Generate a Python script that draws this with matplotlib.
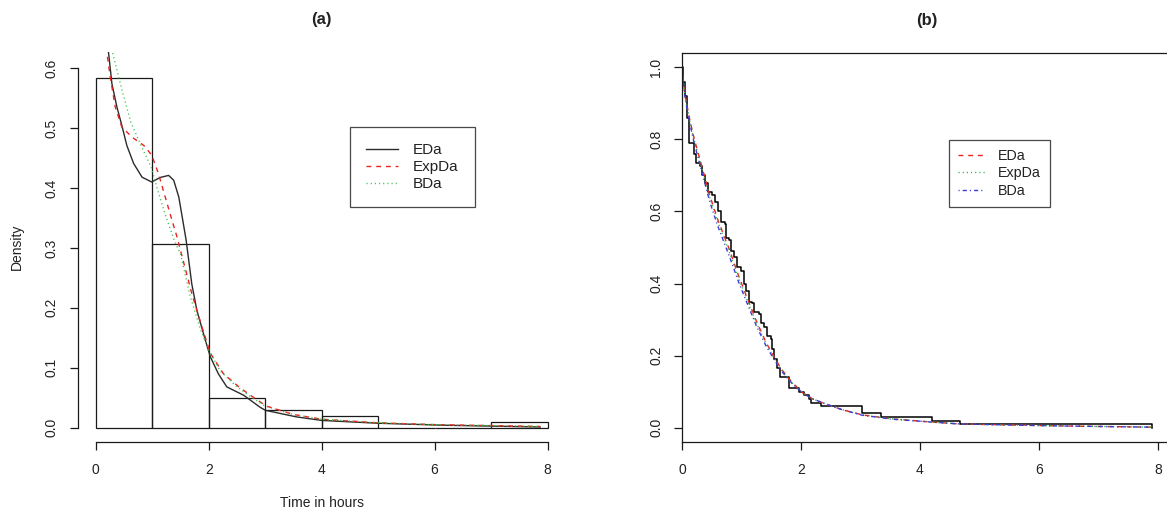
import matplotlib
matplotlib.use("Agg")
import matplotlib.pyplot as plt

plt.rcParams['font.family'] = ['Liberation Sans', 'DejaVu Sans']

# ---------------- data: panel (a) ----------------
hist_left = [0, 1, 2, 3, 4, 5, 6, 7]
hist_density = [0.584, 0.307, 0.050, 0.030, 0.020, 0.0, 0.0, 0.010]

eda_t = [0.15, 0.227, 0.286, 0.375, 0.46, 0.55, 0.67, 0.82, 0.99, 1.14, 1.29, 1.38,
         1.47, 1.53, 1.6, 1.7, 1.79, 1.94, 2.03, 2.17, 2.32, 2.62, 2.91, 3.0, 3.55,
         4.0, 5.0, 6.16, 7.87]
eda_d = [0.69, 0.625, 0.574, 0.535, 0.505, 0.471, 0.441, 0.418, 0.41, 0.4175, 0.421,
         0.413, 0.385, 0.352, 0.313, 0.24, 0.196, 0.146, 0.118, 0.09, 0.068, 0.054,
         0.034, 0.029, 0.018, 0.012, 0.0073, 0.004, 0.001]

expda_t = [0.15, 0.198, 0.257, 0.345, 0.46, 0.64, 0.85, 0.99, 1.11, 1.23, 1.35, 1.44,
           1.5, 1.7, 1.88, 2.03, 2.26, 2.56, 2.8, 3.02, 3.5, 4.0, 5.0, 6.0, 7.87]
expda_d = [0.70, 0.625, 0.585, 0.535, 0.502, 0.485, 0.471, 0.455, 0.424, 0.385, 0.346,
           0.318, 0.296, 0.224, 0.168, 0.124, 0.09, 0.066, 0.05, 0.036, 0.022, 0.014,
           0.008, 0.005, 0.002]

bda_t = [0.2, 0.3, 0.46, 0.62, 0.83, 0.98, 1.1, 1.25, 1.4, 1.5, 1.67, 1.85, 2.0, 2.2,
         2.5, 2.8, 3.0, 3.5, 4.0, 5.0, 6.0, 7.87]
bda_d = [0.68, 0.625, 0.565, 0.51, 0.465, 0.435, 0.395, 0.35, 0.31, 0.29, 0.22, 0.165,
         0.13, 0.095, 0.068, 0.048, 0.036, 0.022, 0.014, 0.008, 0.005, 0.002]

# ---------------- data: panel (b) ----------------
km_time = [0, 0.02, 0.05, 0.09, 0.12, 0.21, 0.24, 0.31, 0.34, 0.38, 0.43, 0.51, 0.55,
           0.60, 0.66, 0.73, 0.745, 0.79, 0.82, 0.87, 0.93, 0.99, 1.04, 1.08, 1.12,
           1.18, 1.21, 1.29, 1.32, 1.38, 1.43, 1.49, 1.52, 1.55, 1.60, 1.64, 1.79,
           1.97, 2.05, 2.13, 2.16, 2.33, 3.03, 3.34, 4.21, 4.68, 7.90]
km_surv = [1.0, 0.96, 0.92, 0.86, 0.79, 0.76, 0.735, 0.725, 0.70, 0.68, 0.655, 0.645,
           0.625, 0.60, 0.57, 0.565, 0.525, 0.52, 0.49, 0.475, 0.445, 0.435, 0.40,
           0.38, 0.35, 0.345, 0.32, 0.315, 0.29, 0.28, 0.255, 0.245, 0.22, 0.19, 0.165,
           0.14, 0.11, 0.10, 0.09, 0.08, 0.07, 0.06, 0.04, 0.03, 0.02, 0.01, 0.0]

fit_t = [0, 0.03, 0.06, 0.1, 0.15, 0.2, 0.3, 0.47, 0.6, 0.79, 0.95, 1.10, 1.25, 1.415,
         1.55, 1.67, 1.85, 2.04, 2.2, 2.42, 2.7, 3.03, 3.53, 4.2, 4.65, 5.5, 6.5, 7.9]
fit_eda = [1.0, 0.95, 0.915, 0.88, 0.84, 0.805, 0.745, 0.642, 0.578, 0.497, 0.422,
           0.358, 0.296, 0.236, 0.196, 0.163, 0.126, 0.096, 0.08, 0.066, 0.05, 0.036,
           0.025, 0.016, 0.011, 0.008, 0.005, 0.002]
fit_expda = [1.0, 0.948, 0.912, 0.876, 0.836, 0.80, 0.74, 0.637, 0.572, 0.49, 0.416,
             0.352, 0.291, 0.232, 0.193, 0.161, 0.125, 0.096, 0.08, 0.066, 0.05, 0.036,
             0.025, 0.016, 0.011, 0.008, 0.005, 0.002]
fit_bda = [1.0, 0.945, 0.908, 0.87, 0.83, 0.793, 0.73, 0.625, 0.56, 0.478, 0.405,
           0.343, 0.283, 0.226, 0.189, 0.158, 0.123, 0.095, 0.08, 0.066, 0.05, 0.035,
           0.024, 0.016, 0.011, 0.008, 0.005, 0.002]

x_ticks = [0, 2, 4, 6, 8]
ya_ticks = [0.0, 0.1, 0.2, 0.3, 0.4, 0.5, 0.6]
yb_ticks = [0.0, 0.2, 0.4, 0.6, 0.8, 1.0]

# ---------------- styles ----------------
DASH = (0, (3.5, 3.5))
DOT = (0, (0.8, 2.2))
DASHDOT = (0, (0.8, 2.2, 3.0, 2.2))
INK = '#1a1a1a'
TXT = '#222222'
W, H = 1167, 512

fig = plt.figure(figsize=(W / 100, H / 100), dpi=100)

def frac(x0, x1, ytop, ybot):
    return [x0 / W, 1 - ybot / H, (x1 - x0) / W, (ybot - ytop) / H]

def style_ticks(ax, yt):
    ax.tick_params(axis='both', direction='out', length=6, width=0.9, color=INK,
                   labelsize=10, labelcolor=TXT)
    ax.tick_params(axis='x', pad=9)
    ax.tick_params(axis='y', pad=7.5)
    ax.set_xticks(x_ticks)
    ax.set_xticklabels([str(v) for v in x_ticks])
    ax.set_yticks(yt)
    ax.set_yticklabels(['%.1f' % v for v in yt])
    for lbl in ax.get_yticklabels():
        lbl.set_rotation(90)
        lbl.set_verticalalignment('center')

# ---------------- panel (a) ----------------
axa = fig.add_axes(frac(77.7, 565.6, 52, 442))
axa.bar(hist_left, hist_density, width=1.0, align='edge', fill=False,
        edgecolor=INK, linewidth=0.9)
axa.plot(eda_t, eda_d, color='#2b2b2b', lw=1.0, ls='-', label='EDa')
axa.plot(expda_t, expda_d, color='#e8241f', lw=1.0, ls=DASH, label='ExpDa')
axa.plot(bda_t, bda_d, color='#39c24a', lw=1.0, ls=DOT, label='BDa')
axa.set_xlim(-0.32, 8.32)
axa.set_ylim(-0.024, 0.627)
for s in ['top', 'right']:
    axa.spines[s].set_visible(False)
axa.spines['left'].set_bounds(0, 0.6)
axa.spines['bottom'].set_bounds(0, 8)
for s in ['left', 'bottom']:
    axa.spines[s].set_linewidth(0.9)
    axa.spines[s].set_color(INK)
style_ticks(axa, ya_ticks)
axa.set_title('(a)', fontsize=12, fontweight='bold', pad=20, color=TXT)
axa.set_xlabel('Time in hours', fontsize=10, color=TXT)
axa.xaxis.set_label_coords(0.5, -(503 - 442) / 390)
axa.xaxis.label.set_verticalalignment('center')
axa.set_ylabel('Density', fontsize=10, color=TXT)
axa.yaxis.set_label_coords(-(77.7 - 16.6) / (565.6 - 77.7), 0.5)
axa.yaxis.label.set_verticalalignment('center')
leg_a = axa.legend(loc='upper left',
                   bbox_to_anchor=(349.7 / W, 1 - 127.3 / H),
                   bbox_transform=fig.transFigure, fontsize=11, frameon=True,
                   fancybox=False, borderpad=1.05, handlelength=2.1,
                   handletextpad=1.0, labelspacing=0.2, borderaxespad=0)
leg_a.get_frame().set_edgecolor(INK)
leg_a.get_frame().set_linewidth(0.9)
for t in leg_a.get_texts():
    t.set_color(TXT)

# ---------------- panel (b) ----------------
axb = fig.add_axes(frac(682, 1172, 52.7, 442.3))
axb.step(km_time, km_surv, where='post', color='black', lw=1.1)
axb.plot(fit_t, fit_eda, color='#e8241f', lw=1.0, ls=DASH, label='EDa')
axb.plot(fit_t, fit_expda, color='#2fae3e', lw=1.0, ls=DOT, label='ExpDa')
axb.plot(fit_t, fit_bda, color='#3b3bd6', lw=1.0, ls=DASHDOT, label='BDa')
axb.set_xlim(0, (1172 - 682) / 59.5)
axb.set_ylim(-0.04, 1.04)
for s in axb.spines.values():
    s.set_linewidth(0.9)
    s.set_color(INK)
style_ticks(axb, yb_ticks)
axb.set_title('(b)', fontsize=12, fontweight='bold', pad=20, color=TXT)
leg_b = axb.legend(loc='upper left',
                   bbox_to_anchor=(949 / W, 1 - 139.7 / H),
                   bbox_transform=fig.transFigure, fontsize=10.3, frameon=True,
                   fancybox=False, borderpad=0.62, handlelength=1.9,
                   handletextpad=0.9, labelspacing=0.26, borderaxespad=0)
leg_b.get_frame().set_edgecolor(INK)
leg_b.get_frame().set_linewidth(0.9)
for t in leg_b.get_texts():
    t.set_color(TXT)

fig.savefig('out.png', dpi=100, facecolor='white')
